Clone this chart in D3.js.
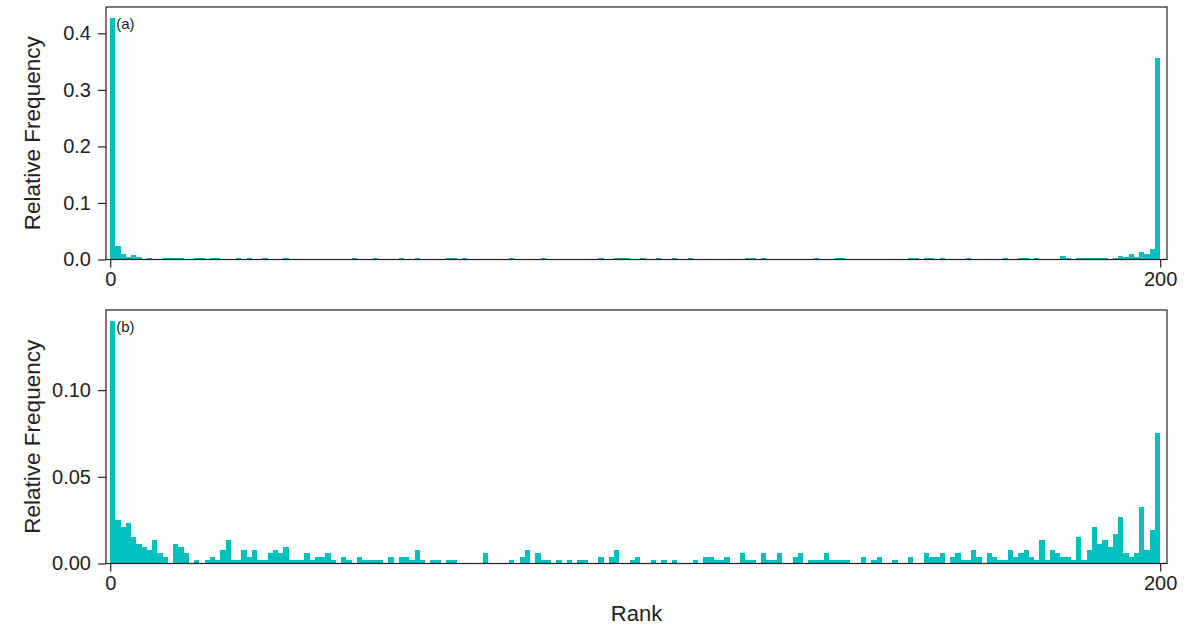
<!DOCTYPE html>
<html>
<head>
<meta charset="utf-8">
<script src="https://cdn.jsdelivr.net/npm/d3@7"></script>
<style>
  html, body { margin: 0; padding: 0; background: #fff; }
  svg { display: block; }
  text { font-family: "Liberation Sans", Arial, sans-serif; fill: #222; }
</style>
</head>
<body>
<svg id="chart" width="1185" height="627"></svg>
<script>
// Rank histogram: relative frequency of each rank bin (bins 0..199, width 1).
const xTickValues = [0, 200];
const yTicksA = [0.0, 0.1, 0.2, 0.3, 0.4];
const yTicksB = [0.00, 0.05, 0.10];
const panelLabels = ["(a)", "(b)"];

// Panel (a): non-zero bins only, as [rank, relative frequency]
const ranksA = [0, 1, 2, 3, 4, 5, 7, 10, 11, 12, 13, 16, 17, 19, 20, 24, 26, 29, 33, 46, 50, 55, 58, 64, 65, 67,
  76, 82, 93, 96, 97, 98, 101, 104, 107, 110, 121, 122, 124, 134, 138, 139, 152, 153, 155, 156, 158, 163,
  170, 173, 174, 176, 181, 182, 184, 185, 186, 187, 188, 189, 191, 192, 193, 194, 195, 196, 197, 198, 199];
const freqA = [0.4265, 0.0245, 0.0094, 0.0047, 0.0071, 0.0038, 0.0019, 0.0019, 0.0019, 0.0019, 0.0019, 0.0019, 0.0019, 0.0019, 0.0019, 0.0019, 0.0019, 0.0019, 0.0019, 0.0019, 0.0019, 0.0019, 0.0019, 0.0019, 0.0019, 0.0019,
  0.0019, 0.0019, 0.0019, 0.0019, 0.0019, 0.0019, 0.0019, 0.0019, 0.0019, 0.0019, 0.0019, 0.0019, 0.0019, 0.0019, 0.0019, 0.0019, 0.0019, 0.0019, 0.0019, 0.0019, 0.0019, 0.0019,
  0.0019, 0.0019, 0.0019, 0.0019, 0.0057, 0.0019, 0.0019, 0.0019, 0.0019, 0.0019, 0.0019, 0.0019, 0.0019, 0.0057, 0.0038, 0.0094, 0.0038, 0.0124, 0.0094, 0.0183, 0.3557];

// Panel (b): every bin, rank 0 .. 199
const freqB = [
  0.1398, 0.0252, 0.0212, 0.0231, 0.0154, 0.0115, 0.0096, 0.0077, 0.0135, 0.0058,
  0.0038, 0, 0.0115, 0.0096, 0.0058, 0, 0.0019, 0, 0.0019, 0.0038,
  0.0019, 0.0077, 0.0135, 0.0019, 0.0019, 0.0077, 0.0038, 0.0077, 0.0019, 0.0019,
  0.0058, 0.0077, 0.0058, 0.0096, 0.0019, 0.0019, 0.0019, 0.0058, 0.0019, 0.0038,
  0.0038, 0.0058, 0.0019, 0, 0.0038, 0.0019, 0, 0.0038, 0.0019, 0.0019,
  0.0019, 0.0019, 0, 0.0038, 0, 0.0038, 0.0038, 0.0019, 0.0077, 0.0019,
  0, 0.0019, 0.0019, 0, 0.0019, 0.0019, 0, 0, 0, 0,
  0, 0.0058, 0, 0, 0, 0, 0.0019, 0, 0.0038, 0.0077,
  0, 0.0058, 0.0019, 0.0019, 0, 0.0019, 0, 0.0019, 0, 0.0019,
  0.0019, 0, 0, 0.0038, 0, 0.0038, 0.0077, 0, 0, 0.0019,
  0.0038, 0, 0, 0.0019, 0, 0.0019, 0, 0.0019, 0, 0,
  0, 0.0019, 0, 0.0038, 0.0038, 0.0019, 0.0019, 0.0038, 0, 0,
  0.0058, 0.0019, 0.0019, 0, 0.0058, 0.0019, 0.0019, 0.0058, 0, 0,
  0.0038, 0.0058, 0, 0.0019, 0.0019, 0.0019, 0.0058, 0.0019, 0.0019, 0.0019,
  0.0019, 0, 0, 0.0038, 0, 0.0019, 0.0038, 0, 0, 0.0019,
  0, 0, 0.0038, 0, 0, 0.0058, 0.0038, 0.0038, 0.0058, 0,
  0.0038, 0.0058, 0.0019, 0.0019, 0.0077, 0.0038, 0, 0.0058, 0.0038, 0.0019,
  0.0019, 0.0077, 0.0038, 0.0058, 0.0077, 0.0038, 0.0019, 0.0135, 0.0019, 0.0077,
  0.0058, 0.0038, 0.0038, 0.0019, 0.0154, 0.0019, 0.0077, 0.0211, 0.0115, 0.0135,
  0.0096, 0.0173, 0.0269, 0.0058, 0.0038, 0.0058, 0.0327, 0.0077, 0.0192, 0.0754
];

const barColor = "#00bfbf";
const svg = d3.select("#chart");

const left = 106, right = 1167;
const x = d3.scaleLinear().domain([-0.8, 201.3]).range([left, right]);

const panels = [
  { top: 7, bottom: 259.5, ymax: 0.4465, ticks: yTicksA, fmt: d3.format(".1f"),
    data: ranksA.map((r, i) => ({ rank: r, v: freqA[i] })), label: panelLabels[0] },
  { top: 310, bottom: 563.5, ymax: 0.1462, ticks: yTicksB, fmt: d3.format(".2f"),
    data: freqB.map((v, i) => ({ rank: i, v })).filter(d => d.v > 0), label: panelLabels[1] }
];

panels.forEach(p => {
  const y = d3.scaleLinear().domain([0, p.ymax]).range([p.bottom, p.top]);
  const g = svg.append("g");

  g.append("g").attr("shape-rendering", "crispEdges")
    .selectAll("rect.bar").data(p.data).join("rect")
    .attr("class", "bar")
    .attr("x", d => x(d.rank))
    .attr("width", d => x(d.rank + 1) - x(d.rank))
    .attr("y", d => y(d.v))
    .attr("height", d => y(0) - y(d.v))
    .attr("fill", barColor);

  // y axis
  const ya = g.append("g").attr("transform", `translate(${left},0)`)
    .call(d3.axisLeft(y).tickValues(p.ticks).tickFormat(p.fmt).tickSize(8).tickPadding(7));
  ya.select(".domain").remove();
  ya.selectAll("line").attr("stroke", "#222").attr("stroke-width", 1.2);
  ya.selectAll("text").attr("font-size", 20).attr("fill", "#222");

  // x axis
  const xa = g.append("g").attr("transform", `translate(0,${p.bottom})`)
    .call(d3.axisBottom(x).tickValues(xTickValues).tickFormat(d3.format("d")).tickSize(8).tickPadding(4));
  xa.select(".domain").remove();
  xa.selectAll("line").attr("stroke", "#222").attr("stroke-width", 1.2);
  xa.selectAll("text").attr("font-size", 20).attr("fill", "#222");

  // frame
  g.append("rect")
    .attr("x", left).attr("y", p.top)
    .attr("width", right - left).attr("height", p.bottom - p.top)
    .attr("fill", "none").attr("stroke", "#222").attr("stroke-width", 1.2);

  g.append("text")
    .attr("x", x(0) + 6).attr("y", p.top + 22)
    .attr("font-size", 15)
    .text(p.label);

  g.append("text")
    .attr("transform", `translate(40,${(p.top + p.bottom) / 2}) rotate(-90)`)
    .attr("text-anchor", "middle")
    .attr("font-size", 22.5)
    .text("Relative Frequency");
});

svg.append("text")
  .attr("x", (left + right) / 2).attr("y", 621)
  .attr("text-anchor", "middle")
  .attr("font-size", 22)
  .text("Rank");
</script>
</body>
</html>
